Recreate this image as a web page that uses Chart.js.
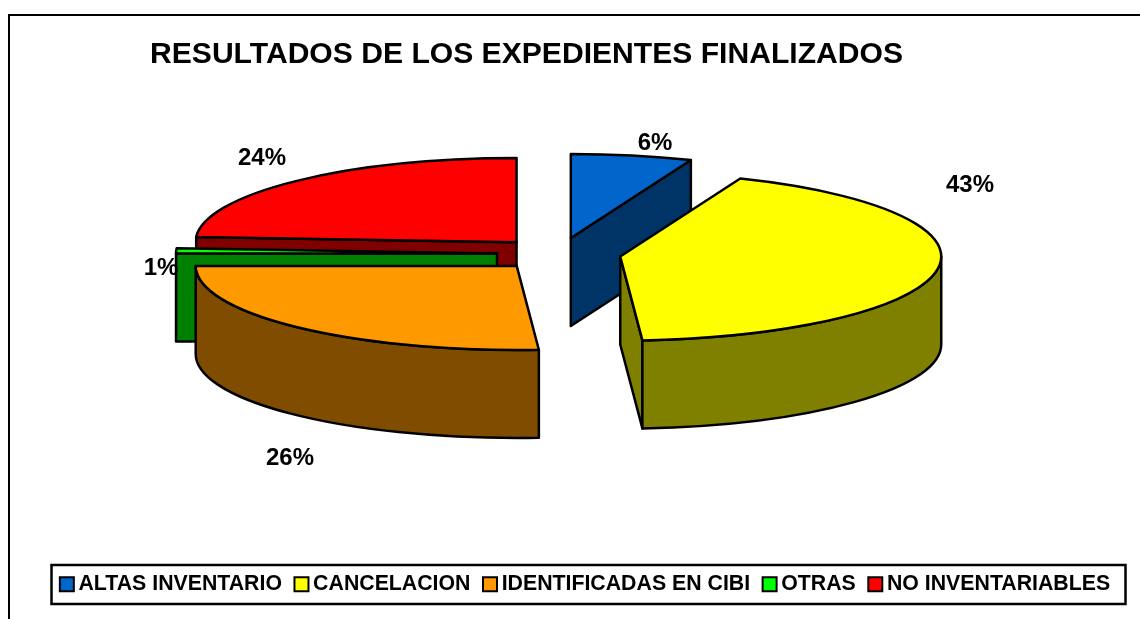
<!DOCTYPE html>
<html>
<head>
<meta charset="utf-8">
<style>html,body{margin:0;padding:0;background:#fff}#wrap{width:1140px;height:619px}</style>
<script src="https://cdn.jsdelivr.net/npm/chart.js@4/dist/chart.umd.min.js"></script>
</head>
<body>
<div id="wrap"><canvas id="c" width="1140" height="619"></canvas></div>
<script>
const chartTitle = 'RESULTADOS DE LOS EXPEDIENTES FINALIZADOS';
const categories = ['ALTAS INVENTARIO', 'CANCELACION', 'IDENTIFICADAS EN CIBI', 'OTRAS', 'NO INVENTARIABLES'];
const percentValues = [6.1, 42.8, 26.1, 1, 24];
const topColors = ['#0066CC', '#FFFF00', '#FF9900', '#00FF00', '#FF0000'];
const wallColors = ['#003366', '#808000', '#804D00', '#008000', '#800000'];
const paintOrder = [4, 3, 0, 2, 1];
const labelPositions = [[655, 143], [970, 185], [290, 458], [161, 268], [262, 158]];

const FONT = '"Liberation Sans", Arial, sans-serif';
const PIE = {cx: 559, cy: 254, tilt: 0.262, depth: 88};

const pie3d = {
  id: 'pie3d',
  beforeDraw(chart) {
    const ctx = chart.ctx;
    ctx.save();
    ctx.fillStyle = '#fff';
    ctx.fillRect(0, 0, chart.width, chart.height);
    ctx.strokeStyle = '#000';
    ctx.lineWidth = 2;
    ctx.beginPath();
    ctx.moveTo(9, chart.height + 2);
    ctx.lineTo(9, 15);
    ctx.lineTo(chart.width + 2, 15);
    ctx.stroke();
    ctx.restore();
  },
  afterLayout(chart) {
    chart.titleBlock.left = 150;
  },
  beforeDatasetsDraw(chart) {
    const ctx = chart.ctx;
    const arcs = chart.getDatasetMeta(0).data;
    const {tilt, depth} = PIE;
    ctx.save();
    ctx.strokeStyle = '#000';
    ctx.lineWidth = 2.5;
    ctx.lineJoin = 'round';
    const wall = (path, fill) => {
      ctx.beginPath();
      path();
      ctx.closePath();
      ctx.fillStyle = fill;
      ctx.fill();
      ctx.stroke();
    };
    paintOrder.forEach(i => {
      const arc = arcs[i];
      const {startAngle: a0, endAngle: a1, outerRadius: R} = arc;
      const off = arc.options.offset;
      const mid = (a0 + a1) / 2;
      const cx = PIE.cx + off * Math.cos(mid);
      const cy = PIE.cy + off * Math.sin(mid) * tilt;
      const rim = a => [cx + R * Math.cos(a), cy + R * Math.sin(a) * tilt];
      const radial = a => {
        const p = rim(a);
        wall(() => {
          ctx.moveTo(cx, cy);
          ctx.lineTo(p[0], p[1]);
          ctx.lineTo(p[0], p[1] + depth);
          ctx.lineTo(cx, cy + depth);
        }, wallColors[i]);
      };
      if (Math.cos(a0) < -1e-6) radial(a0);
      if (Math.cos(a1) > 1e-6) radial(a1);
      const w0 = Math.max(a0, 0), w1 = Math.min(a1, Math.PI);
      if (w1 > w0) {
        wall(() => {
          ctx.ellipse(cx, cy, R, R * tilt, 0, w0, w1);
          ctx.ellipse(cx, cy + depth, R, R * tilt, 0, w1, w0, true);
        }, wallColors[i]);
      }
      wall(() => {
        ctx.moveTo(cx, cy);
        ctx.ellipse(cx, cy, R, R * tilt, 0, a0, a1);
      }, arc.options.backgroundColor);
    });
    ctx.fillStyle = '#000';
    ctx.font = 'bold 24px ' + FONT;
    ctx.textAlign = 'center';
    ctx.textBaseline = 'middle';
    percentValues.forEach((v, i) => {
      ctx.fillText(Math.round(v) + '%', labelPositions[i][0], labelPositions[i][1]);
    });
    ctx.restore();
    return false;
  },
  afterDraw(chart) {
    const ctx = chart.ctx;
    ctx.save();
    ctx.strokeStyle = '#000';
    ctx.lineWidth = 2.5;
    ctx.strokeRect(51.5, 565, 1074, 39);
    ctx.restore();
  }
};

new Chart(document.getElementById('c'), {
  type: 'pie',
  plugins: [pie3d],
  data: {
    labels: categories,
    datasets: [{
      data: percentValues,
      backgroundColor: topColors,
      borderColor: '#000',
      borderWidth: 2,
      offset: 62,
      radius: 321
    }]
  },
  options: {
    responsive: false,
    animation: false,
    radius: 321,
    layout: {padding: {left: 36, right: 0, top: 37, bottom: 14}},
    plugins: {
      tooltip: {enabled: false},
      title: {
        display: true,
        text: chartTitle,
        align: 'start',
        color: '#000',
        font: {family: FONT, size: 30.1, weight: 'bold'},
        padding: {top: 0, bottom: 0}
      },
      legend: {
        display: true,
        position: 'bottom',
        align: 'center',
        labels: {
          usePointStyle: true,
          pointStyle: 'rect',
          boxWidth: 2,
          boxHeight: 14,
          padding: 18.5,
          color: '#000',
          font: {family: FONT, size: 21.3, weight: 'bold'}
        }
      }
    }
  }
});
</script>
</body>
</html>
